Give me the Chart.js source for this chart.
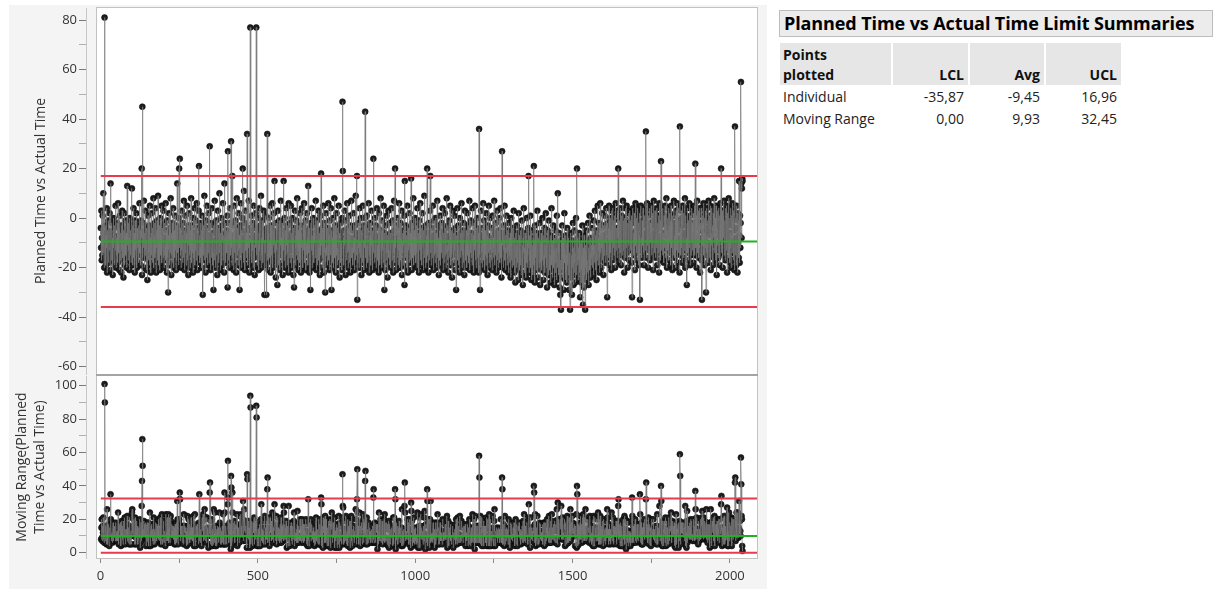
<!DOCTYPE html>
<html>
<head>
<meta charset="utf-8">
<script src="https://cdn.jsdelivr.net/npm/chart.js@4.4.1/dist/chart.umd.min.js"></script>
<style>
  body { margin: 0; background: #fff; width: 1216px; height: 589px; overflow: hidden; font-family: "Open Sans", "Noto Sans", sans-serif; }
  #panel { position: absolute; left: 9px; top: 5px; width: 758px; height: 584px; background: #f4f4f4; }
  #topChart { position: absolute; left: 0; top: 0; }
  #bottomChart { position: absolute; left: 0; top: 375px; }
  #summaryTitle { position: absolute; left: 779px; top: 10px; width: 428px; height: 25px; border: 1px solid #bdbdbd; background: #ececec;
    font-weight: bold; font-size: 18px; line-height: 25px; padding-left: 4px; color: #000; white-space: nowrap; letter-spacing: -0.1px; }
  #summary { position: absolute; left: 778px; top: 43px; border-collapse: separate; border-spacing: 2px 0; font-size: 14px; color: #222; table-layout: fixed; }
  #summary th { background: #e6e6e6; font-weight: bold; text-align: right; vertical-align: bottom; padding: 0 4px 0 3px; height: 42px; line-height: 20px; color: #111; }
  #summary th:first-child { text-align: left; }
  #summary td { text-align: right; padding: 0 4px 0 3px; height: 22px; line-height: 22px; white-space: nowrap; }
  #summary tbody tr:first-child td { padding-top: 1px; }
  #summary td:first-child { text-align: left; }
</style>
</head>
<body>
<div id="panel"></div>
<canvas id="topChart" width="762" height="375"></canvas>
<canvas id="bottomChart" width="762" height="214"></canvas>
<div id="summaryTitle">Planned Time vs Actual Time Limit Summaries</div>
<table id="summary">
  <colgroup><col style="width:111px"><col style="width:75px"><col style="width:74px"><col style="width:75px"></colgroup>
  <thead><tr id="headRow"></tr></thead>
  <tbody id="summaryBody"></tbody>
</table>
<script>
// limit summaries (LCL, Avg, UCL)
const limitNames = ["LCL", "Avg", "UCL"];
const individualLimits = [-35.87, -9.45, 16.96];
const movingRangeLimits = [0.00, 9.93, 32.45];
const rowNames = ["Individual", "Moving Range"];

// Planned Time vs Actual Time (samples 1..2040)
const samples1to400 = [
  -4, -12, 3, -17, -8, -15, 1, -11, 10, -6, -14, -20, 81, -9, -16, -3, -19, -7, -12, 4, -22, -10, -5, -15, -1, -18, -9, -13, 2, -11, -21, 14, -6, -17, -10, -2, -14, -8, -23, -5,
  -12, 0, -16, -7, -19, -3, -10, 5, -13, -20, -8, -15, -2, -11, -18, 6, -9, -14, -4, -21, -12, 1, -17, -6, -10, -22, -3, -13, 3, -8, -16, -11, -24, -5, -14, 2, -19, -7, -12, -1,
  -15, -6, -20, -9, 13, -4, -11, -17, -2, -13, -8, -21, 0, -10, -15, -5, -18, -7, -12, 12, -14, -3, -19, -9, 4, -16, -6, -11, -22, -1, -13, -8, -17, 2, -10, -20, -4, -12, -7, -15,
  -3, -18, -9, 6, -14, -11, -5, -19, -1, -8, 20, -23, 45, -7, -16, -2, -12, 7, -10, -20, -6, -15, 3, -13, -9, -21, -4, -11, -25, -7, 1, -17, -10, -14, -3, -19, 5, -8, -12, -22,
  -6, -15, 2, -11, -18, -4, -9, 8, -13, -20, -7, -2, -16, -10, 4, -14, -22, -5, -12, -1, -17, -8, 9, -11, -19, -3, -13, -6, -21, 0, -10, -15, -7, 5, -18, -12, -4, -9, -16, 3,
  -13, -20, -8, -2, -15, -11, 6, -17, -5, -12, -22, -1, -9, -16, -30, -7, -13, 2, -19, -10, -4, -14, 8, -11, -23, -6, -15, -2, -18, -9, 4, -12, -20, -5, -10, -16, 1, -13, -8, -21,
  -3, -11, -17, 14, -6, -14, -9, -19, 0, 20, -12, 24, -8, -15, -4, -20, -10, 3, -13, -7, -18, -2, -11, -16, 7, -9, -21, -5, -14, 1, -12, -19, -6, -10, 5, -17, -8, -13, -23, -3,
  -11, 2, -15, -9, -20, -5, -13, 8, -10, -18, -3, -14, -7, -22, 0, -12, -16, -6, 4, -19, -9, -13, -1, -17, -8, 6, -11, -21, -4, -15, -10, 3, 21, -14, -7, -18, -12, -2, -16, -9,
  -5, -20, 1, -12, -31, -8, -15, -3, -11, 9, -17, -6, -13, -22, -1, -10, -16, 5, -9, -19, -4, -14, -11, 2, -18, -7, 29, -13, -8, -21, -2, -12, -16, 4, -10, -6, -19, -14, -29, -3,
  -11, -17, 7, -9, -13, -20, -5, -1, -15, -10, -23, -7, 3, -12, -18, -4, -14, 10, -8, -16, -21, -6, -11, 0, -13, -19, -3, -9, 6, -17, -12, -7, -22, 14, -10, -15, -2, -18, -8, -13
];
const samples401to800 = [
  -5, -14, 1, -28, 27, -6, -17, -11, -2, -20, -9, 4, -13, -15, 31, -8, -12, -19, 17, -7, -16, -3, -21, -10, 5, -14, -8, -18, -1, -12, -22, -6, 8, -15, -11, -4, -19, -9, 2, -13,
  -7, -29, -12, -3, -17, 6, -10, -20, -5, -14, 0, 20, -11, -18, -8, 11, -15, -2, -21, -9, 3, -13, -6, -16, -13, 34, -10, -19, -4, -12, 7, -8, -22, -14, -17, 77, -10, -5, -15, 1,
  -18, -9, -13, -2, -20, -7, 5, -16, -11, -23, -4, -12, 2, -11, 77, -4, -15, -19, -8, 0, -14, -10, -21, -6, 4, -13, -17, -3, -11, 9, -20, -8, -15, -1, -12, -18, -5, -10, 3, -16,
  -31, -9, -14, 1, -7, -19, -31, -12, -4, 34, -11, -17, -6, -21, 0, -13, -9, -16, 5, -10, -22, -3, -15, -8, -18, 6, -12, -20, -5, -11, 2, -14, 15, -7, -17, -10, -24, -2, -13, -8,
  -16, -27, -6, 3, -12, -19, -9, -1, -15, -21, -4, -11, 7, -14, -8, -18, -2, -10, -23, -6, -13, 15, -9, -17, 0, -12, -20, -5, -15, 4, -11, -8, -19, -3, -14, -10, -22, 6, -7, -16,
  -12, -2, -18, -9, 5, -13, -20, -6, -11, 0, -16, -8, -23, -4, -28, -10, -14, 3, -7, -19, -12, -1, -15, -9, 8, -17, -11, -5, -21, -13, -3, -10, -18, 2, -8, -15, -22, -6, -12, 4,
  -16, -9, -20, -3, -13, -7, 6, -11, -18, -5, -14, -1, -21, -10, -15, 2, -8, -12, -19, 13, -6, -14, -10, -22, -4, -17, -29, -9, -2, -13, 4, -11, -20, -7, -15, 0, -12, -18, -6, -10,
  -3, -16, -11, 7, -14, -21, -8, -1, -13, -19, -5, -10, 3, -17, -12, -6, -23, -9, 1, -15, 18, -11, -7, -20, -4, -13, -16, 5, -10, -22, -2, -14, -8, -30, -12, -18, 2, -6, -15, -11,
  -19, -4, -9, 6, -13, -17, -7, -21, -1, -12, -15, 4, -10, -29, -5, -14, -8, -18, 0, -11, -20, -6, 8, -13, -16, -3, -10, -22, -7, 2, -15, -12, -19, -4, -9, -17, 5, -11, -14, -24,
  -6, -13, -2, -18, -10, -15, -21, 0, 47, 19, -8, -14, -19, -5, -11, 3, -16, -9, -23, -1, -12, -17, -7, 6, -14, -10, -20, -4, -13, 1, -18, -8, -11, -22, -3, -15, 7, -9, -16, -12
];
const samples801to1200 = [
  -5, -19, -10, 2, -14, -8, -21, -13, -3, -17, 9, -11, -6, -15, 17, -33, -9, -18, -2, -12, -7, -20, 4, -14, -10, -16, 0, -11, -23, -5, -13, -8, -18, 5, -15, -9, -21, -3, -12, 0,
  43, -6, -16, -11, -20, 1, -9, -14, -4, -18, -12, 6, -10, -22, -7, -15, -2, -13, -19, -8, 3, -11, -17, -5, -21, -9, 24, -14, -6, -12, -18, 0, -10, -16, -3, -20, -8, 4, -13, -11,
  -17, -4, -9, -22, 2, -14, -7, -19, -12, 8, -10, -16, -5, -20, -1, -13, -8, -18, -11, 5, -15, -29, -6, -12, -21, -3, -10, -17, 1, -14, -9, -24, -7, -11, 3, -16, -13, -19, -2, -10,
  -15, -6, -20, -11, 4, -8, -17, -13, -1, -22, -9, -14, 7, -5, -18, 20, -12, -10, -21, -3, -15, -7, 0, -16, -11, -19, -4, -13, 6, -9, -20, -14, -2, -17, -8, -12, 3, -23, -10, -6,
  -14, -19, -5, -11, 1, -27, 15, -9, -16, -3, -12, -20, -7, -15, 5, -10, -22, -4, -13, -8, -18, 2, -11, -6, -17, -14, 16, -9, -21, -2, -12, -16, -7, 8, -13, -19, -5, -10, -15, 0,
  -11, -18, -8, -3, -14, -20, 4, -9, -12, -16, -6, -22, -1, -13, -10, 6, -17, -7, -15, -4, -19, -11, 2, -9, -14, -21, -5, -12, 9, -16, -8, -10, -20, -3, -13, -7, -18, 20, -11, -15,
  -6, -22, -2, -12, -9, -17, 3, 17, -14, -8, -19, -11, -4, -16, -10, 5, -13, -21, -7, -1, -15, -12, -18, 0, -9, -14, -6, -20, -11, 7, -16, -3, -13, -8, -23, -10, -5, -17, 1, -12,
  -19, -7, -14, -2, -11, -16, 4, -9, -21, -13, -6, -18, -10, 2, -15, -4, -12, -20, -8, 8, -14, -11, -17, -3, -22, -9, -13, -1, -16, -7, 5, -12, -19, -10, -5, -15, -24, -8, 3, -11,
  -14, -6, -18, -10, 1, -13, -21, -4, -9, -29, -15, -7, -12, 4, -17, -11, -3, -19, -8, -14, -22, 0, -10, -16, -6, -13, 6, -11, -20, -5, -15, -9, -18, -2, -12, -23, -7, 3, -14, -10,
  -17, -5, -12, -20, -9, 2, -15, -11, -3, -18, -13, 7, -8, -21, -10, -14, -1, -16, -6, -12, -19, 4, -9, -15, -7, -22, -2, -13, -11, 5, -17, -8, -14, -20, -4, -10, -16, 0, -12, -18
];
const samples1201to1600 = [
  -6, -22, 36, -9, -15, -29, -7, -12, 3, -18, -10, -14, -4, -20, -8, 6, -13, -17, -1, -11, -21, -5, -15, -9, -19, 2, -12, -16, -7, -23, -3, -10, -14, 5, -18, -8, -12, -20, 0, -13,
  -9, -17, -4, -11, -21, 1, -14, -8, -16, -12, 7, -19, -6, -10, -15, -2, -13, -22, -7, 3, -11, -17, -9, -20, -5, -14, 0, -12, -18, -8, 4, -16, -10, -24, -18, 27, -11, -6, -15, -20,
  -3, -13, -9, 5, -17, -12, -21, -7, -14, 1, -10, -19, -5, -16, -11, -22, -2, -13, -8, -18, -15, -6, -24, -11, 0, -17, -9, -20, -13, -4, -19, -10, 3, -15, -22, -8, -12, -26, -6, -16,
  -11, -20, -3, -14, -18, -9, -25, -12, 2, -16, -7, -21, -13, -19, -5, -10, -23, -15, -1, -17, -11, -27, -8, -14, 4, -19, -12, -22, -6, -16, -10, -24, -13, 0, -18, -9, -20, -15, -4, 17,
  -12, -22, -7, -17, -14, 1, -20, -10, -25, -13, -5, -18, -11, -23, -8, -19, 21, -15, -9, -26, -3, -16, -12, -21, -6, -14, -19, 3, -11, -24, -17, -8, -13, -20, -2, -15, -27, -10, -18, -6,
  -14, -21, -9, 0, -17, -12, -25, -7, -19, -15, -4, -22, -11, -16, 2, -13, -20, -8, -28, -14, -5, -18, -12, -23, -1, -16, -10, -21, -15, -26, -7, -13, 4, -19, -11, -24, -9, -17, -3, -20,
  -13, -27, -8, -16, -22, -5, -18, -12, -25, 1, -15, -20, 10, -10, -23, -14, -6, -19, -28, -11, -31, -17, -37, -9, -21, -13, -3, -24, -16, -8, -20, -29, -12, 2, -18, -14, -25, -7, -22, -15,
  -10, -26, -4, -19, -13, -23, -17, -8, -29, -14, -21, -37, -11, -18, -6, -24, -15, -31, -9, -20, -2, -16, -27, -12, -22, -5, -18, -14, -26, -10, 0, -23, -20, 20, -15, -19, -8, -25, -12, -17,
  -6, -22, -14, -32, -10, -18, -26, -9, -21, -15, -3, -24, -35, -12, -19, -28, -7, -16, -23, -37, -11, -20, -13, -5, -25, -17, -9, -22, -2, -15, -27, -12, -18, 1, -21, -14, -24, -8, -19, -11,
  -16, -4, -20, -13, -9, -23, -1, -15, -11, -18, 3, -12, -21, -7, -14, -25, -5, -17, -10, 5, -19, -8, -13, -2, -22, -11, -16, 6, -9, -14, -20, -4, -12, 2, -17, -7, -11, -23, -3, -15
];
const samples1601to2040 = [
  -8, 1, -13, -18, -3, -10, 4, -15, -6, -32, -11, -2, -16, -4, -9, 5, -12, -19, -5, 0, -14, -8, -21, 3, -10, -3, -17, 4, -12, -7, -1, -15, 1, -9, -20, -5, 6, -13, -6, -11,
  -4, -16, 3, -8, 20, -12, -4, -18, -1, -10, -14, 4, -6, -19, -3, 1, -11, -15, -7, 7, -13, -1, -9, -22, 0, -5, -16, 4, -10, -12, -3, 5, -14, -8, -20, -2, -6, 2, -11, -17,
  -4, 3, -9, -13, -1, -7, -18, 1, -32, -10, -2, 4, -12, -6, -15, 2, -8, -21, -1, 6, -11, -5, -14, 0, -17, -9, 4, -3, -12, -2, -19, -7, 2, -33, -10, -4, 5, -13, -8, -16,
  -1, -6, -11, 4, -14, -3, -19, 1, -9, -1, -13, 3, 35, -7, -16, -2, 6, -11, -5, -20, 1, -8, -13, 4, -4, -17, -2, -10, -6, 5, -15, -2, -12, 2, -9, -21, -1, 7, -7, -14,
  -3, 3, -10, -16, 0, -5, -12, 4, -19, -7, -2, -14, 1, -9, -22, 6, -4, -11, -1, -17, 23, -8, -13, 2, -2, -15, 4, -10, -6, -18, 1, -12, -1, 5, -16, -7, -3, 8, -11, -20,
  -5, 0, -13, -8, 4, -17, -3, -10, 2, -14, -1, -19, 5, -6, -12, -2, -21, -9, 1, -15, -4, 7, -11, -7, -16, 1, -2, -20, 3, -13, -8, 6, -5, -18, -1, -11, -14, 4, -3, -22,
  37, -9, -4, -15, 3, -12, 0, -18, -7, 5, -10, -1, -16, 2, -13, -6, 8, -20, -3, 1, -11, -8, -27, -2, 4, -14, -5, -17, -1, -9, 6, -12, -4, -19, 1, -7, -15, 4, -10, -2,
  -13, -6, 2, -18, -2, -11, 5, -8, -15, 22, -4, -12, 1, -20, -7, 7, -1, -14, -9, 3, -16, -3, 4, -10, -22, -2, -13, -5, 4, -17, -33, -8, 1, -11, -2, 6, -15, -6, -19, 0,
  -9, 3, -12, -30, -4, 4, -14, -7, -1, -18, -10, 7, -5, -16, 1, -2, -13, 5, -21, -6, -2, -11, 4, -15, -3, -19, 2, -8, -1, 8, -14, -10, 0, -17, -5, 5, -12, -23, -4, 3,
  -11, -2, -16, 4, -7, -13, 1, -19, -5, 6, -9, 20, -14, -1, 3, -12, -20, 1, -8, -3, 7, -15, -6, -1, -17, -10, 4, -4, -13, 5, -22, -2, 2, -11, -7, 8, -16, -9, 0, -18,
  -6, 4, -12, -20, 1, -3, -14, 6, -9, -1, -17, 3, -11, -21, -5, 37, -8, -15, 0, -19, 5, -4, -13, -22, 2, -10, -1, -16, 15, -7, -18, 1, -12, -2, 55, 14, -8, 12, 16, 15
];

const individual = [].concat(samples1to400, samples401to800, samples801to1200, samples1201to1600, samples1601to2040);
const sampleNo = individual.map((v, i) => i + 1);
// moving range of two: |x(i) - x(i-1)|, the first sample has none
const movingRange = individual.map((v, i) => i === 0 ? null : Math.abs(v - individual[i - 1]));

const X_MIN = -46, X_MAX = 2086;
const fontFamily = '"Open Sans", "Noto Sans", sans-serif';
const RED = "#e63c4b", GREEN = "#22b022";

Chart.defaults.font.family = fontFamily;

// white plot box with a gray frame, starting a little right of the axis line
const plotFrame = {
  id: "plotFrame",
  beforeDraw(chart, args, opts) {
    const { ctx, chartArea: a } = chart;
    ctx.save();
    ctx.fillStyle = "#fff";
    ctx.fillRect(opts.left, a.top, a.right - opts.left, a.bottom - a.top);
    ctx.restore();
  },
  afterDraw(chart, args, opts) {
    const { ctx, chartArea: a } = chart;
    ctx.save();
    ctx.strokeStyle = "#c2c2c2";
    ctx.lineWidth = 1;
    ctx.strokeRect(opts.left + 0.5, a.top - 0.5, a.right - opts.left, a.bottom - a.top + 1);
    ctx.fillStyle = "#a4a4a4";
    if (opts.separator === "bottom") ctx.fillRect(opts.left, a.bottom, a.right - opts.left + 1, chart.height - a.bottom);
    if (opts.separator === "top") ctx.fillRect(opts.left, 0, a.right - opts.left + 1, a.top);
    ctx.restore();
  }
};

function limitLine(value, color) {
  return {
    data: [{ x: sampleNo[0], y: value }, { x: X_MAX, y: value }],
    borderColor: color, borderWidth: 2, pointRadius: 0, tension: 0
  };
}

// connecting line drawn over the markers, like the JMP chart
function seriesLine(values) {
  return {
    data: values.map((v, i) => ({ x: sampleNo[i], y: v })),
    borderColor: "rgba(120,120,120,0.7)", borderWidth: 1, pointRadius: 0, tension: 0, spanGaps: false
  };
}
function seriesMarkers(values) {
  return {
    data: values.map((v, i) => ({ x: sampleNo[i], y: v })),
    showLine: false,
    pointRadius: 3, pointBackgroundColor: "#1e1e1e", pointBorderColor: "#000", pointBorderWidth: 0.5
  };
}

function yScale(min, max, title, titlePad, lineHeight) {
  return {
    type: "linear", min: min, max: max,
    afterFit: (s) => { s.width = 86; s.paddingTop = 0; s.paddingBottom = 0; },
    ticks: {
      stepSize: 10, includeBounds: false, autoSkip: false, padding: 2, color: "#333",
      font: { size: 13 },
      callback: (v) => (v % 20 === 0 ? v : "")
    },
    grid: { drawOnChartArea: false, tickLength: 7, color: (c) => (c.tick && c.tick.value % 20 === 0 ? "#7a7a7a" : "#b0b0b0") },
    border: { display: true, color: "#c8c8c8" },
    title: { display: true, text: title, color: "#333", font: { size: 14, lineHeight: lineHeight }, padding: { top: titlePad, bottom: 0 } }
  };
}

new Chart(document.getElementById("topChart"), {
  type: "line",
  data: {
    datasets: [
      limitLine(individualLimits[0], RED),
      limitLine(individualLimits[2], RED),
      limitLine(individualLimits[1], GREEN),
      seriesLine(individual),
      seriesMarkers(individual)
    ]
  },
  options: {
    responsive: false, animation: false, normalized: true,
    layout: { autoPadding: false, padding: { top: 8, right: 5, bottom: 1, left: 0 } },
    plugins: { legend: { display: false }, tooltip: { enabled: false }, plotFrame: { left: 96, separator: "bottom" } },
    scales: {
      x: { type: "linear", min: X_MIN, max: X_MAX, display: false },
      y: yScale(-62.96, 84.86, "Planned Time vs Actual Time", 33, 1.2)
    }
  },
  plugins: [plotFrame]
});

new Chart(document.getElementById("bottomChart"), {
  type: "line",
  data: {
    datasets: [
      limitLine(movingRangeLimits[0], RED),
      limitLine(movingRangeLimits[2], RED),
      limitLine(movingRangeLimits[1], GREEN),
      seriesLine(movingRange),
      seriesMarkers(movingRange)
    ]
  },
  options: {
    responsive: false, animation: false, normalized: true,
    layout: { autoPadding: false, padding: { top: 1, right: 5, bottom: 0, left: 0 } },
    plugins: { legend: { display: false }, tooltip: { enabled: false }, plotFrame: { left: 96, separator: "top" } },
    scales: {
      x: {
        type: "linear", min: X_MIN, max: X_MAX,
        afterFit: (s) => { s.height = 31; s.paddingLeft = 0; s.paddingRight = 0; },
        ticks: { stepSize: 250, includeBounds: false, autoSkip: false, maxRotation: 0, padding: 5, color: "#333", font: { size: 13 },
          callback: (v) => (v % 500 === 0 ? v : "") },
        grid: { drawOnChartArea: false, tickLength: 5, color: "#8a8a8a" },
        border: { display: false }
      },
      y: yScale(-3.19, 105.84, ["Moving Range(Planned", "Time vs Actual Time)"], 13, 1.3)
    }
  },
  plugins: [plotFrame]
});

// limit summaries table
const fmt = (v) => v.toFixed(2).replace(".", ",");
document.getElementById("headRow").innerHTML =
  "<th>Points<br>plotted</th>" + limitNames.map((n) => "<th>" + n + "</th>").join("");
document.getElementById("summaryBody").innerHTML = [individualLimits, movingRangeLimits]
  .map((lims, r) => "<tr><td>" + rowNames[r] + "</td>" + lims.map((v) => "<td>" + fmt(v) + "</td>").join("") + "</tr>")
  .join("");
</script>
</body>
</html>
